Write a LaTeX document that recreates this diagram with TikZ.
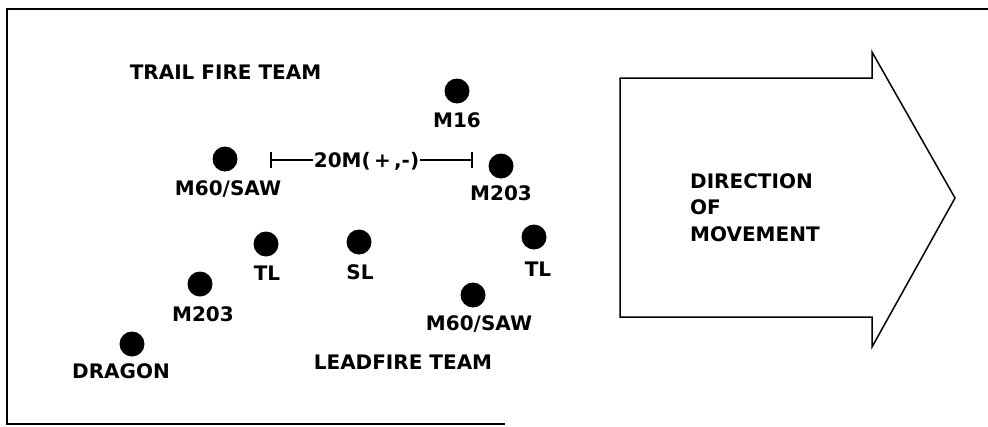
\documentclass[tikz,border=0pt]{standalone}
\usepackage{fontspec}
\setmainfont{DejaVu Sans}
\usetikzlibrary{arrows.meta}
\tikzset{
  dot/.style={circle, fill=black, minimum size=25pt, inner sep=0pt},
  lbl/.style={font=\bfseries\fontsize{20}{24}\selectfont, inner sep=0pt, anchor=base},
  frameline/.style={line width=2pt},
  outline/.style={line width=1.5pt, line join=miter},
}
\begin{document}
\begin{tikzpicture}[x=1pt,y=-1pt]
\useasboundingbox (0,0) rectangle (988,426);
% frame
\coordinate (ftr) at (988,9);
\coordinate (ftl) at (7,9);
\coordinate (fbl) at (7,424);
\coordinate (fbr) at (505,424);
\draw[frameline] (ftr) -- (ftl) -- (fbl) -- (fbr);
% direction arrow
\coordinate (a1) at (620,78);
\coordinate (a2) at (872,78);
\coordinate (a3) at (872,52);
\coordinate (a4) at (955,198);
\coordinate (a5) at (872,347);
\coordinate (a6) at (872,317);
\coordinate (a7) at (620,317);
\draw[outline] (a1) -- (a2) -- (a3) -- (a4) -- (a5) -- (a6) -- (a7) -- cycle;
\node[lbl, anchor=north west, align=left, font=\bfseries\fontsize{20}{26.5}\selectfont] (dir) at (690,173) {DIRECTION\\OF\\MOVEMENT};
% team titles
\node[lbl] (trail) at (225.5,79) {TRAIL FIRE TEAM};
\node[lbl] (lead) at (403,369) {LEADFIRE TEAM};
% soldiers
\node[dot] (m16) at (457,91) {};
\node[lbl] (m16l) at (457,127) {M16};
\node[dot] (m60a) at (225,159) {};
\node[lbl] (m60al) at (228,195) {M60/SAW};
\node[dot] (m203a) at (501,166) {};
\node[lbl] (m203al) at (501,200) {M203};
\node[dot] (tla) at (266,244) {};
\node[lbl] (tlal) at (267,280) {TL};
\node[dot] (sl) at (359,242) {};
\node[lbl] (sll) at (360,279) {SL};
\node[dot] (tlb) at (534,237) {};
\node[lbl] (tlbl) at (538,276) {TL};
\node[dot] (m203b) at (200,284) {};
\node[lbl] (m203bl) at (203,321) {M203};
\node[dot] (m60b) at (473,295) {};
\node[lbl] (m60bl) at (479,330) {M60/SAW};
\node[dot] (drag) at (132,344) {};
\node[lbl] (dragl) at (121,378) {DRAGON};
% 20 m dimension
\coordinate (lt) at (270,160);
\coordinate (rt) at (473,160);
\node[lbl, inner xsep=1pt] (dim) at (366.5,167) {20M(\,+\,,-)};
\draw[line width=1.5pt, {Bar[width=16pt,line width=2pt]}-] (lt) -- (lt -| dim.west);
\draw[line width=1.5pt, -{Bar[width=16pt,line width=2pt]}] (rt -| dim.east) -- (rt);
\end{tikzpicture}
\end{document}
